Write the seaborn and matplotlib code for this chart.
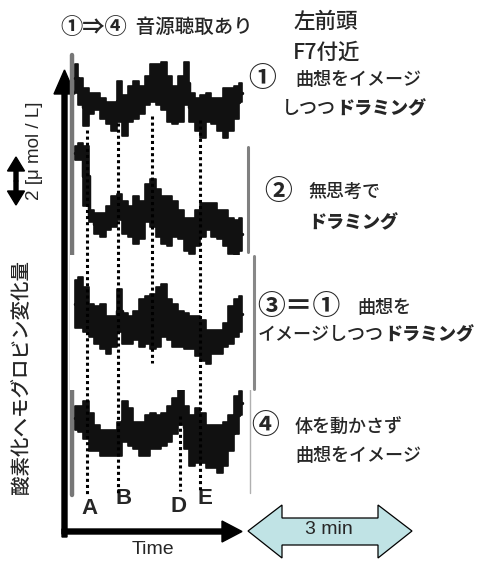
import numpy as np
import pandas as pd
import matplotlib
matplotlib.use("Agg")
import matplotlib.pyplot as plt
import matplotlib.transforms as mtransforms
from matplotlib.patches import FancyArrow, Polygon, Rectangle
import seaborn as sns

sns.set_style("white")
plt.rcParams["font.family"] = ["Noto Sans CJK JP", "DejaVu Sans"]
plt.rcParams["axes.unicode_minus"] = False

# --- data ---
# time in s, 3 min window, HbO2 change in umol/L (upper / lower edge of the trace)
T = np.arange(0, 181, 6)

TRACE1_HI = [1.5, 0.9, 0.5, 0.3, 0.3, 0.1, -0.1, -0.1, 0.8, 0.2, 0.6, 0.8, 0.6, 1.0, 1.5, 1.5,
             1.6, 1.0, 0.6, 1.0, 1.6, 0.3, 0.1, 0.2, 0.3, 0.1, 0.1, 0.5, 0.5, 0.6, 0.7]
TRACE1_LO = [0.3, -0.2, -1.1, -0.6, -0.4, -0.8, -1.0, -1.3, -0.9, -1.5, -0.9, -0.8, -0.6, -0.2, -0.1, -0.2,
             -0.4, -0.9, -1.0, -0.9, -0.2, -0.9, -1.3, -1.6, -0.9, -1.0, -1.3, -1.6, -1.3, -0.8, -0.1]

TRACE2_HI = [3.1, 3.2, 3.1, 0.4, 0.3, 0.3, 0.6, 1.0, 1.1, 0.8, 0.6, 1.0, 0.8, 1.5, 1.7, 1.3,
             1.0, 1.0, 0.8, 0.4, 0.1, 0.1, 0.4, 0.7, 0.7, 0.7, 0.4, 0.4, 0.1, 0.0, 0.1]
TRACE2_LO = [2.5, 2.5, 0.6, -0.1, -0.6, -0.7, -0.4, -0.3, 0.0, -0.6, -0.7, -1.0, -0.8, -0.1, -0.3, -0.7,
             -1.0, -1.1, -0.7, -0.8, -1.3, -1.4, -1.1, -0.7, -0.4, -0.7, -0.8, -1.1, -1.4, -1.7, -1.3]

TRACE3_HI = [2.1, 2.2, 1.8, 1.1, 1.0, 1.1, 0.6, 0.6, 1.7, 0.7, 0.6, 0.8, 1.3, 1.4, 1.5, 1.8,
             1.9, 1.3, 1.1, 0.8, 0.7, 0.6, 0.6, 0.4, 0.0, 0.0, 0.0, 0.3, 1.0, 1.3, 1.4]
TRACE3_LO = [0.1, 0.1, -0.1, -0.3, -0.6, -0.8, -1.0, -0.7, -0.1, -0.6, -0.6, -0.4, -0.7, -0.6, -0.8, -0.7,
             -0.3, -0.4, -0.7, -0.7, -0.8, -0.8, -1.1, -1.3, -1.4, -1.0, -1.0, -0.7, -0.6, -0.3, -0.1]

TRACE4_HI = [1.1, 1.1, 1.3, 0.8, 0.3, 0.1, 0.1, 0.1, 0.4, 1.3, 1.0, 0.4, 0.4, 0.7, 0.8, 0.7,
             0.8, 1.1, 1.4, 1.8, 1.1, 0.7, 1.0, 0.8, 0.3, 0.3, 0.3, 0.4, 0.7, 1.5, 1.7]
TRACE4_LO = [0.1, 0.0, -0.3, -0.8, -0.8, -1.0, -1.0, -1.0, -1.0, -0.4, -0.6, -0.7, -1.0, -1.0, -0.7, -0.7,
             -0.6, -0.4, -0.1, 0.3, -0.7, -1.4, -1.3, -1.3, -1.5, -1.5, -1.7, -1.4, -0.8, -0.1, 0.7]

EVENT_T = [13, 46, 83, 113, 135]
EVENT_LABEL = ["A", "B", "C", "D", "E"]

# --- layout (pixels) ---
W, H = 478, 561
X0 = 75                 # pixel where t = 0
PX_PER_S = 167 / 180
PX_PER_UMOL = 24
CENTERS = [100, 220, 330, 432]
EVENT_SPAN = [(130, 495), (123, 493), (116, 363), (416, 491), (120, 491)]
LABEL_POS = [(90, 509), (124, 498), (151, 377), (179, 507), (205, 498)]

fig = plt.figure(figsize=(W / 100, H / 100), dpi=100)
ov = fig.add_axes([0, 0, 1, 1])
ov.set_xlim(0, W)
ov.set_ylim(H, 0)
ov.axis("off")

ax = fig.add_axes([0, 0, 1, 1])
ax.patch.set_alpha(0)

rows = []
for i, (hi, lo) in enumerate([(TRACE1_HI, TRACE1_LO), (TRACE2_HI, TRACE2_LO),
                              (TRACE3_HI, TRACE3_LO), (TRACE4_HI, TRACE4_LO)]):
    off = -CENTERS[i] / PX_PER_UMOL
    for t, h, l in zip(T, hi, lo):
        rows.append((i, t, h + off))
        rows.append((i, t, l + off))
df = pd.DataFrame(rows, columns=["trace", "t", "v"])

for i in range(4):
    z = 3 if i == 2 else 1
    sns.lineplot(data=df[df["trace"] == i], x="t", y="v", estimator="mean",
                 errorbar=("pi", 100), color="#111111", lw=2.5, drawstyle="steps-mid",
                 err_kws=dict(alpha=1, lw=1.2, edgecolor="#111111", step="mid", zorder=z),
                 zorder=z, ax=ax)

ax.set_xlim(-X0 / PX_PER_S, (W - X0) / PX_PER_S)
ax.set_ylim(-H / PX_PER_UMOL, 0)
ax.axis("off")

pix = ov.transData
tx = mtransforms.blended_transform_factory(ax.transData, ov.transData)

# panel 3 sits on a white box over its neighbours
ax.add_patch(Rectangle((70, 255), 186, 135, transform=pix, facecolor="white",
                       edgecolor="none", zorder=2))
# gray edge bars of the pasted panels
ax.plot([72.5, 72.5], [55, 495], color="#777777", lw=3.2, transform=pix, zorder=0.5)
ax.plot([248, 248], [147, 252], color="#808080", lw=2.2, transform=pix, zorder=0.5)
ax.plot([254, 254], [256, 389], color="#888888", lw=2.2, transform=pix, zorder=2.5)
ax.plot([250, 250], [380, 493], color="#b0b0b0", lw=1, transform=pix, zorder=0.5)

# event lines A-E
for t, (y0, y1), lab, (lx, ly) in zip(EVENT_T, EVENT_SPAN, EVENT_LABEL, LABEL_POS):
    ax.plot([t, t], [y0, y1], transform=tx, color="black", lw=2.2,
            linestyle=(0, (1, 1)), zorder=4)
    ov.text(lx, ly, lab, ha="center", va="center", fontsize=16, fontweight="bold",
            family=["Liberation Sans", "DejaVu Sans"])

# axes arrows
ov.add_patch(FancyArrow(64.5, 537, 0, -467, width=5, head_width=21, head_length=24,
                        length_includes_head=True, color="black"))
ov.add_patch(FancyArrow(62, 531.5, 180, 0, width=5, head_width=21, head_length=20,
                        length_includes_head=True, color="black"))
# 2 umol/L scale arrow
ov.add_patch(FancyArrow(16, 181, 0, -24, width=4, head_width=17, head_length=14,
                        length_includes_head=True, color="black"))
ov.add_patch(FancyArrow(16, 181, 0, 24, width=4, head_width=17, head_length=14,
                        length_includes_head=True, color="black"))
# 3 min arrow
ov.add_patch(Polygon([(248, 531), (282, 505), (282, 518), (378, 518), (378, 505), (412, 531),
                      (378, 558), (378, 545), (282, 545), (282, 558)], closed=True,
                     facecolor="#c0e3e5", edgecolor="black", lw=0.9))
ov.text(329, 530, "3 min", ha="center", va="center", fontsize=14,
        family=["Liberation Sans", "DejaVu Sans"])
ov.text(153, 550, "Time", ha="center", va="center", fontsize=14,
        family=["Liberation Sans", "DejaVu Sans"])

# axis labels
ov.text(22, 377, "酸素化ヘモグロビン変化量", rotation=90, ha="center", va="center",
        fontsize=14, fontweight="medium")
ov.text(35, 151, "2 [μ mol / L]", rotation=90, ha="center", va="center", fontsize=13.5,
        family=["Liberation Sans", "DejaVu Sans"])

FS = 13
TW = "medium"
BIG = 20


def chain(prev, s, **kw):
    return ov.annotate(s, xy=(1, 0.5), xycoords=prev, ha="left", va="center", fontsize=FS, **kw)


p = ov.text(60, 27, "①⇒④", ha="left", va="center", fontsize=16, fontweight="bold")
ov.annotate("  音源聴取あり", xy=(1, 0.5), xycoords=p, ha="left", va="center",
            fontsize=14, fontweight=TW)
ov.text(293, 22, "左前頭", ha="left", va="center", fontsize=15.5, fontweight=TW)
ov.text(293, 53, "F7付近", ha="left", va="center", fontsize=15.5, fontweight=TW)

ov.text(262, 79, "①", ha="center", va="center", fontsize=BIG, fontweight="bold")
ov.text(295, 80, "曲想をイメージ", ha="left", va="center", fontsize=FS, fontweight=TW)
p = ov.text(282, 109, "しつつ", ha="left", va="center", fontsize=FS, fontweight=TW)
chain(p, "ドラミング", fontweight="black")

ov.text(278, 192, "②", ha="center", va="center", fontsize=BIG, fontweight="bold")
ov.text(308, 192, "無思考で", ha="left", va="center", fontsize=FS, fontweight=TW)
ov.text(308, 223, "ドラミング", ha="left", va="center", fontsize=FS, fontweight="black")

ov.text(257, 307, "③＝①", ha="left", va="center", fontsize=BIG, fontweight="bold")
ov.text(357, 308, "曲想を", ha="left", va="center", fontsize=FS, fontweight=TW)
p = ov.text(258, 335, "イメージしつつ", ha="left", va="center", fontsize=FS, fontweight=TW)
chain(p, "ドラミング", fontweight="black")

ov.text(265, 426, "④", ha="center", va="center", fontsize=BIG, fontweight="bold")
ov.text(295, 428, "体を動かさず", ha="left", va="center", fontsize=FS, fontweight=TW)
ov.text(295, 456, "曲想をイメージ", ha="left", va="center", fontsize=FS, fontweight=TW)

plt.savefig("out.png", dpi=100)
